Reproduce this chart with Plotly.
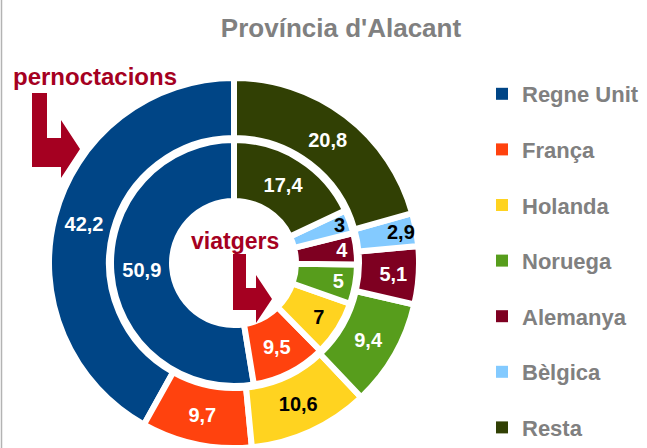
import plotly.graph_objects as go

# ---- data ----
categories = ["Regne Unit", "França", "Holanda", "Noruega", "Alemanya", "Bèlgica", "Resta"]
pernoctacions = [42.2, 9.7, 10.6, 9.4, 5.1, 2.9, 20.8]
viatgers = [50.9, 9.5, 7, 5, 4, 3, 17.4]
colors = ["#004586", "#ff420e", "#ffd320", "#579d1c", "#7e0021", "#83caff", "#314004"]
text_colors = ["white", "white", "black", "white", "white", "black", "white"]

W, H = 647, 448
FONT = "Liberation Sans, Arial, sans-serif"
ARROW = "#a50021"


def fmt(v):
    return f"{v:g}".replace(".", ",")


def wrap(a):
    return (a + 180) % 360 - 180


def first_rot(values):
    # plotly 'counterclockwise' puts the first slice clockwise of the start angle;
    # rotate so the first slice begins at 12 o'clock and runs counterclockwise
    return wrap(-values[0] / sum(values) * 360)


def px(x, y):
    return x / W, 1 - y / H


def path(points):
    pts = [px(x, y) for x, y in points]
    return "M " + " L ".join(f"{a:.5f},{b:.5f}" for a, b in pts) + " Z"


cx, cy = 234, 263  # centre in px (from top)
cyb = H - cy
R_out, r_out = 185, 125
R_in, r_in = 123, 62

fig = go.Figure()

fig.add_trace(go.Pie(
    labels=categories, values=pernoctacions, sort=False, direction="counterclockwise",
    rotation=first_rot(pernoctacions), hole=r_out / R_out,
    domain=dict(x=[(cx - R_out) / W, (cx + R_out) / W], y=[max(0, (cyb - R_out) / H), (cyb + R_out) / H]),
    marker=dict(colors=colors, line=dict(color="white", width=6)),
    text=[fmt(v) for v in pernoctacions], textinfo="text", textposition="inside",
    insidetextorientation="horizontal",
    textfont=dict(family=FONT, size=20, color=text_colors, weight="bold"),
    showlegend=False, hoverinfo="label+value",
))

fig.add_trace(go.Pie(
    labels=categories, values=viatgers, sort=False, direction="counterclockwise",
    rotation=first_rot(viatgers), hole=r_in / R_in,
    domain=dict(x=[(cx - R_in) / W, (cx + R_in) / W], y=[(cyb - R_in) / H, (cyb + R_in) / H]),
    marker=dict(colors=colors, line=dict(color="white", width=6)),
    text=[fmt(v) for v in viatgers], textinfo="text", textposition="inside",
    insidetextorientation="horizontal",
    textfont=dict(family=FONT, size=20, color=text_colors, weight="bold"),
    showlegend=False, hoverinfo="label+value",
))

# legend entries
for name, col in zip(categories, colors):
    fig.add_trace(go.Scatter(
        x=[None], y=[None], mode="markers", name=name, legendgroup=name,
        marker=dict(symbol="square", size=12, color=col), showlegend=True,
    ))

shapes = [
    dict(type="path", xref="paper", yref="paper", line=dict(width=0), fillcolor=ARROW,
         path=path([(32, 93), (47, 93), (47, 138), (61, 138), (61, 120), (80, 149),
                    (61, 178), (61, 167), (32, 167)])),
    dict(type="path", xref="paper", yref="paper", line=dict(width=0), fillcolor=ARROW,
         path=path([(233, 254), (246, 254), (246, 288), (256, 288), (256, 275), (272, 299),
                    (256, 323), (256, 310), (233, 310)])),
    dict(type="line", xref="paper", yref="paper", x0=1.5 / W, x1=1.5 / W, y0=0, y1=1,
         line=dict(color="#b3b3b3", width=1.5)),
]

annotations = [
    dict(text="pernoctacions", x=95 / W, y=1 - 76 / H, xref="paper", yref="paper",
         xanchor="center", yanchor="middle", showarrow=False,
         font=dict(family=FONT, size=24, color=ARROW, weight="bold")),
    dict(text="viatgers", x=235 / W, y=1 - 241 / H, xref="paper", yref="paper",
         xanchor="center", yanchor="middle", showarrow=False,
         font=dict(family=FONT, size=23, color=ARROW, weight="bold")),
]

fig.update_layout(
    width=W, height=H,
    margin=dict(l=0, r=0, t=0, b=0, autoexpand=False),
    paper_bgcolor="white", plot_bgcolor="white",
    title=dict(text="Província d'Alacant", x=341 / W, y=1 - 28 / H, xanchor="center", yanchor="middle",
               font=dict(family=FONT, size=26, color="#808080", weight="bold")),
    xaxis=dict(visible=False), yaxis=dict(visible=False),
    legend=dict(x=482 / W, y=1 - 73 / H, xanchor="left", yanchor="top",
                traceorder="grouped", tracegroupgap=24, itemsizing="constant",
                font=dict(family=FONT, size=22, color="#808080", weight="bold"),
                bgcolor="rgba(0,0,0,0)", borderwidth=0),
    uniformtext=dict(minsize=20, mode="show"),
    shapes=shapes, annotations=annotations,
)

fig.write_html("out.html", config={"displayModeBar": False},
               post_script="document.body.style.margin='0px';")
